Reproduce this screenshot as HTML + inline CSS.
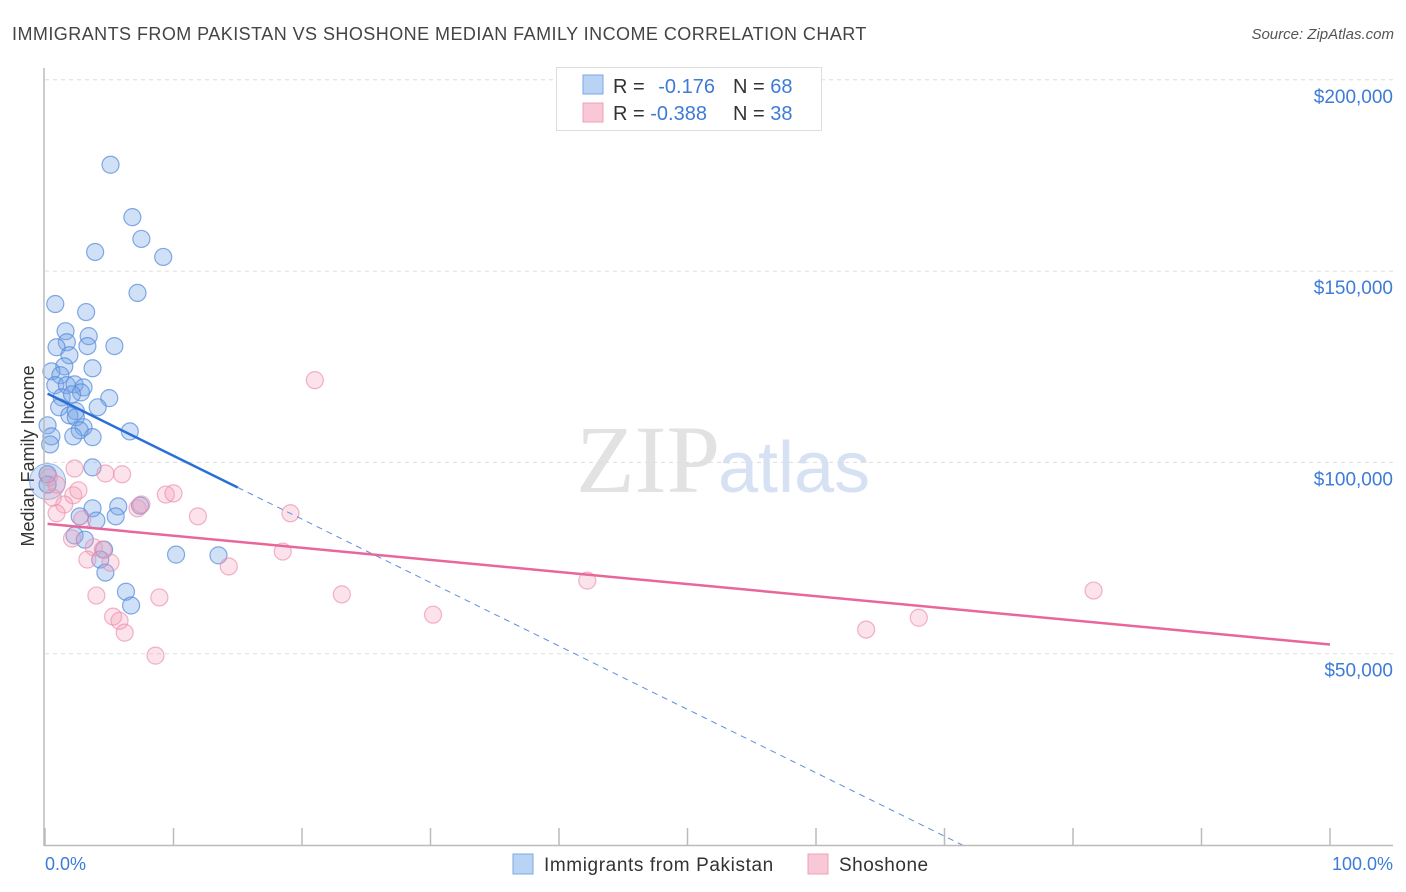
<!DOCTYPE html>
<html><head><meta charset="utf-8"><style>
body{margin:0;background:#fff;font-family:"Liberation Sans",sans-serif;}
#wrap{position:relative;width:1406px;height:892px;overflow:hidden;}
</style></head><body>
<div id="wrap">
<svg id="chart" width="1406" height="892">
<text x="12" y="40" font-size="18" fill="#444" letter-spacing="0.45">IMMIGRANTS FROM PAKISTAN VS SHOSHONE MEDIAN FAMILY INCOME CORRELATION CHART</text>
<text x="1394" y="39" font-size="15" fill="#555" font-style="italic" text-anchor="end">Source: ZipAtlas.com</text>
<text x="720" y="492" font-size="96" fill="#e2e2e2" text-anchor="end" font-family="Liberation Serif">ZIP</text>
<text x="718" y="492" font-size="72" fill="#d6e2f3">atlas</text>
<text transform="translate(34,456) rotate(-90)" font-size="18" fill="#333" text-anchor="middle">Median Family Income</text>
<g id="grid"></g><g id="pts"></g><g id="lines"></g>
<line x1="44" y1="68" x2="44" y2="846" stroke="#bbb" stroke-width="1.5"/>
<line x1="44" y1="845.5" x2="1393" y2="845.5" stroke="#bbb" stroke-width="1.5"/>
<text x="45" y="870" font-size="18" fill="#3d7bd6">0.0%</text>
<text x="1393" y="870" font-size="18" fill="#3d7bd6" text-anchor="end">100.0%</text>
<g>
<rect x="556.5" y="67.5" width="265" height="63" fill="#fff" stroke="#ddd"/>
<rect x="583" y="75" width="20" height="19" fill="#b9d3f5" stroke="#7aa7e6"/>
<rect x="583" y="103" width="20" height="19" fill="#f9c8d7" stroke="#f0a0b8"/>
<text x="613" y="93" font-size="20" fill="#333">R = <tspan fill="#3d7bd6" dx="8">-0.176</tspan></text>
<text x="733" y="93" font-size="20" fill="#333">N = <tspan fill="#3d7bd6">68</tspan></text>
<text x="613" y="120" font-size="20" fill="#333">R = <tspan fill="#3d7bd6">-0.388</tspan></text>
<text x="733" y="120" font-size="20" fill="#333">N = <tspan fill="#3d7bd6">38</tspan></text>
</g>
<g>
<rect x="513" y="854" width="20" height="20" fill="#b9d3f5" stroke="#7aa7e6"/>
<text x="544" y="871" font-size="19" fill="#333" letter-spacing="0.6">Immigrants from Pakistan</text>
<rect x="808" y="854" width="20" height="20" fill="#f9c8d7" stroke="#f0a0b8"/>
<text x="839" y="871" font-size="19" fill="#333" letter-spacing="0.5">Shoshone</text>
</g>
</svg></div>
<script>
const yTicks=[50000,100000,150000,200000];
const yTickLabels=["$50,000","$100,000","$150,000","$200,000"];
const xTickVals=[0,10,20,30,40,50,60,70,80,90,100];
const blueX=[5.1,6.8,7.5,3.9,9.2,7.2,0.8,3.2,1.6,3.4,1.7,5.4,0.9,3.3,1.9,1.5,0.5,3.7,1.2,0.8,1.7,2.3,3.0,2.8,5.0,1.3,2.1,1.1,4.1,2.4,1.9,2.4,3.0,2.7,0.2,2.2,3.7,6.6,0.5,0.4,3.7,0.2,0.2,3.7,5.7,2.7,4.0,5.5,7.4,2.3,3.1,4.6,4.3,10.2,13.5,4.7,6.3,6.7];
const blueY=[177.8,164.1,158.4,155.0,153.7,144.3,141.4,139.3,134.3,133.0,131.4,130.4,130.1,130.4,128.0,125.1,123.8,124.6,122.8,120.2,120.2,120.4,119.6,118.3,116.8,117.0,117.8,114.4,114.4,113.4,112.3,111.8,109.2,108.4,109.7,106.8,106.6,108.1,106.8,104.7,98.7,96.9,94.2,88.0,88.5,85.9,84.8,85.9,88.7,80.9,79.8,77.2,74.6,75.9,75.7,71.2,66.2,62.6];
const pinkX=[21.0,2.3,0.3,0.9,6.0,4.7,2.2,0.6,1.5,0.9,9.4,10.0,7.2,7.5,11.9,19.1,2.9,2.1,3.8,3.3,4.5,5.1,18.5,14.3,42.2,4.0,8.9,23.1,5.3,5.8,6.2,30.2,63.9,68.0,81.6,8.6,2.6];
const pinkY=[121.5,98.4,96.1,94.2,96.9,97.1,91.4,90.8,89.0,86.7,91.6,91.9,88.0,89.0,85.9,86.7,85.1,80.1,77.8,74.6,77.2,73.8,76.7,72.8,69.1,65.2,64.7,65.5,59.7,58.6,55.5,60.2,56.3,59.4,66.5,49.5,92.7];
const blueTrend=[118300,-1657];
const pinkTrend=[84000,-316];
const blueSolidEnd=15;
const NS="http://www.w3.org/2000/svg";
const X=v=>45+v*12.85;
const Y=v=>845-v/50000*191.3;
function mk(t,a,p){const e=document.createElementNS(NS,t);for(const k in a)e.setAttribute(k,a[k]);p.appendChild(e);return e;}
const grid=document.getElementById('grid');
yTicks.forEach((t,i)=>{
 const l=mk('line',{x1:45,x2:1393,y1:Y(t),y2:Y(t),stroke:'#ddd','stroke-dasharray':'4,4'},grid);
 
 
 const tx=mk('text',{x:1393,y:Y(t)+23,'font-size':19,fill:'#3d7bd6','text-anchor':'end'},grid);
 tx.textContent=yTickLabels[i];
 
 
});
xTickVals.forEach(v=>{
 const l=mk('line',{x1:X(v),x2:X(v),y1:828,y2:845,stroke:'#bbb','stroke-width':1.5},grid);
 
 
});
const pts=document.getElementById('pts');
const big=mk('circle',{cx:X(0.2),cy:Y(95000),r:18,fill:'rgba(120,160,225,0.3)',stroke:'rgba(90,140,220,0.6)'},pts);


blueX.forEach((x,i)=>{
 const c=mk('circle',{cx:X(x),cy:Y(blueY[i]*1000),r:8.5,fill:'rgba(120,165,230,0.35)',stroke:'rgba(80,135,220,0.7)','stroke-width':1.2},pts);
 
 
});
pinkX.forEach((x,i)=>{
 const c=mk('circle',{cx:X(x),cy:Y(pinkY[i]*1000),r:8.5,fill:'rgba(245,160,185,0.3)',stroke:'rgba(235,140,170,0.65)','stroke-width':1.2},pts);
 
 
});
const lines=document.getElementById('lines');
const bf=x=>blueTrend[0]+blueTrend[1]*x;
const xEnd=-blueTrend[0]/blueTrend[1];
const bs=mk('line',{x1:X(0.2),y1:Y(bf(0.2)),x2:X(blueSolidEnd),y2:Y(bf(blueSolidEnd)),stroke:'#2a6fd6','stroke-width':2.5},lines);


const bd=mk('line',{x1:X(blueSolidEnd),y1:Y(bf(blueSolidEnd)),x2:X(xEnd),y2:Y(0),stroke:'#5b8fdc','stroke-width':1,'stroke-dasharray':'6,5'},lines);


const pf=x=>pinkTrend[0]+pinkTrend[1]*x;
const pl=mk('line',{x1:X(0.2),y1:Y(pf(0.2)),x2:X(100),y2:Y(pf(100)),stroke:'#e8679a','stroke-width':2.5},lines);


</script>
</body></html>
